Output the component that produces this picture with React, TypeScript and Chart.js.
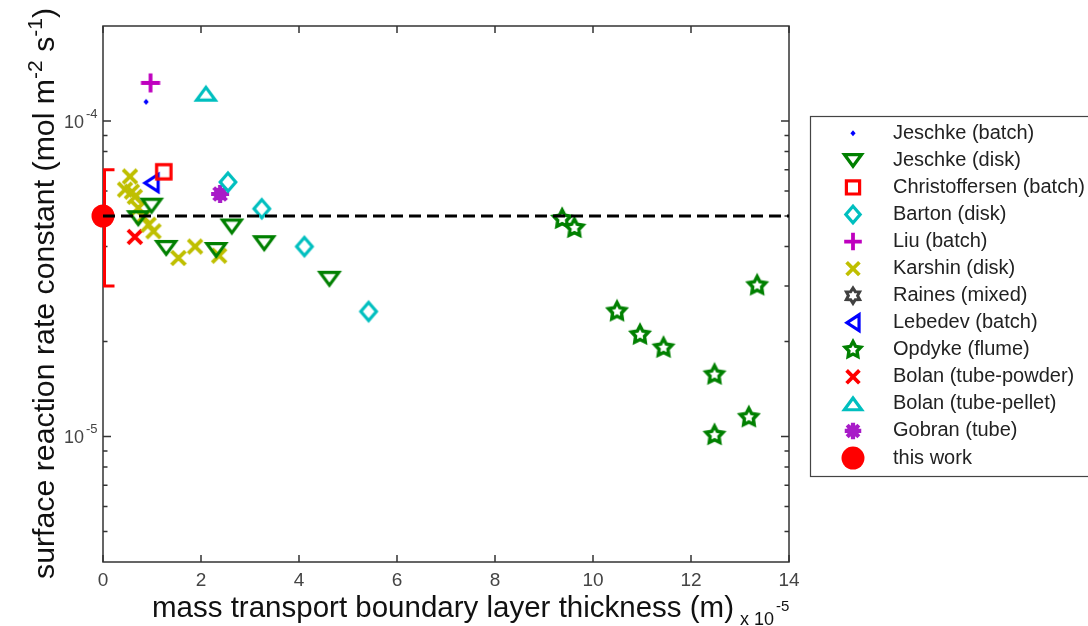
import React, { useEffect, useRef } from "react";
import { Chart, registerables } from "chart.js";

Chart.register(...registerables);

// ---------- data ----------
const xTickValues = [0, 2, 4, 6, 8, 10, 12, 14];
const xTickLabels = ["0", "2", "4", "6", "8", "10", "12", "14"];
const yMajorTicks = [1e-5, 1e-4];
const yMajorBase = ["10", "10"];
const yMajorExp = ["-5", "-4"];
const yMinorTicks = [5e-6, 6e-6, 7e-6, 8e-6, 9e-6, 2e-5, 3e-5, 4e-5, 5e-5, 6e-5, 7e-5, 8e-5, 9e-5];

const jeschkeBatchX = [0.88];
const jeschkeBatchY = [1.15e-4];
const jeschkeDiskX = [0.99, 0.72, 1.29, 2.31, 2.63, 3.29, 4.62];
const jeschkeDiskY = [5.39e-5, 4.92e-5, 3.96e-5, 3.9e-5, 4.63e-5, 4.1e-5, 3.16e-5];
const christoffersenX = [1.24];
const christoffersenY = [6.9e-5];
const bartonX = [2.55, 3.24, 4.11, 5.42];
const bartonY = [6.4e-5, 5.27e-5, 4.0e-5, 2.49e-5];
const liuX = [0.97];
const liuY = [1.32e-4];
const karshinX = [0.55, 0.45, 0.59, 0.65, 0.72, 0.82, 0.93, 1.03, 1.54, 1.88, 2.37];
const karshinY = [6.67e-5, 6.06e-5, 5.97e-5, 5.75e-5, 5.3e-5, 4.97e-5, 4.69e-5, 4.47e-5, 3.68e-5, 4.0e-5, 3.74e-5];
const rainesX: number[] = [];
const rainesY: number[] = [];
const lebedevX = [0.99];
const lebedevY = [6.36e-5];
const opdykeX = [9.37, 9.62, 10.49, 10.96, 11.44, 12.48, 12.48, 13.18, 13.35];
const opdykeY = [4.89e-5, 4.58e-5, 2.49e-5, 2.1e-5, 1.91e-5, 1.57e-5, 1.01e-5, 1.15e-5, 3.01e-5];
const bolanPowderX = [0.65];
const bolanPowderY = [4.29e-5];
const bolanPelletX = [2.1];
const bolanPelletY = [1.22e-4];
const gobranX = [2.39];
const gobranY = [5.87e-5];
const thisWorkX = [0];
const thisWorkY = [5.0e-5];
const thisWorkErrLow = [3.0e-5];
const thisWorkErrHigh = [7.0e-5];
const refLineX = [0, 14];
const refLineY = [5e-5, 5e-5];

const seriesLabels = [
  "Jeschke (batch)",
  "Jeschke (disk)",
  "Christoffersen (batch)",
  "Barton (disk)",
  "Liu (batch)",
  "Karshin (disk)",
  "Raines (mixed)",
  "Lebedev (batch)",
  "Opdyke (flume)",
  "Bolan (tube-powder)",
  "Bolan (tube-pellet)",
  "Gobran (tube)",
  "this work",
];

const FONT = "'Liberation Sans', Arial, Helvetica, sans-serif";

type Kind =
  | "dot" | "triDown" | "square" | "diamond" | "plus" | "x" | "hexagram"
  | "triLeft" | "pentagram" | "triUp" | "asterisk" | "circle";

const seriesDefs: { kind: Kind; color: string; xs: number[]; ys: number[] }[] = [
  { kind: "dot", color: "#0000FF", xs: jeschkeBatchX, ys: jeschkeBatchY },
  { kind: "triDown", color: "#008000", xs: jeschkeDiskX, ys: jeschkeDiskY },
  { kind: "square", color: "#FF0000", xs: christoffersenX, ys: christoffersenY },
  { kind: "diamond", color: "#00BFBF", xs: bartonX, ys: bartonY },
  { kind: "plus", color: "#BF00BF", xs: liuX, ys: liuY },
  { kind: "x", color: "#BFBF00", xs: karshinX, ys: karshinY },
  { kind: "hexagram", color: "#404040", xs: rainesX, ys: rainesY },
  { kind: "triLeft", color: "#0000FF", xs: lebedevX, ys: lebedevY },
  { kind: "pentagram", color: "#008000", xs: opdykeX, ys: opdykeY },
  { kind: "x", color: "#FF0000", xs: bolanPowderX, ys: bolanPowderY },
  { kind: "triUp", color: "#00BFBF", xs: bolanPelletX, ys: bolanPelletY },
  { kind: "asterisk", color: "#A81CC8", xs: gobranX, ys: gobranY },
  { kind: "circle", color: "#FF0000", xs: thisWorkX, ys: thisWorkY },
];

function drawMarker(ctx: CanvasRenderingContext2D, kind: Kind, cx: number, cy: number, color: string, k = 1.2) {
  ctx.save();
  ctx.strokeStyle = color;
  ctx.fillStyle = color;
  ctx.lineJoin = "miter";
  ctx.lineCap = "butt";
  ctx.beginPath();
  switch (kind) {
    case "dot":
      ctx.moveTo(cx, cy - 3);
      ctx.lineTo(cx + 2.6, cy);
      ctx.lineTo(cx, cy + 3);
      ctx.lineTo(cx - 2.6, cy);
      ctx.closePath();
      ctx.fill();
      break;
    case "triDown":
      ctx.lineWidth = 3.2;
      ctx.moveTo(cx - 7.8 * k, cy - 5.3 * k);
      ctx.lineTo(cx + 7.8 * k, cy - 5.3 * k);
      ctx.lineTo(cx, cy + 5.3 * k);
      ctx.closePath();
      ctx.stroke();
      break;
    case "triUp":
      ctx.lineWidth = 3.2;
      ctx.moveTo(cx - 7.8 * k, cy + 5.3 * k);
      ctx.lineTo(cx + 7.8 * k, cy + 5.3 * k);
      ctx.lineTo(cx, cy - 5.3 * k);
      ctx.closePath();
      ctx.stroke();
      break;
    case "triLeft":
      ctx.lineWidth = 3.2;
      ctx.moveTo(cx + 5.5 * k, cy - 7.2 * k);
      ctx.lineTo(cx + 5.5 * k, cy + 7.2 * k);
      ctx.lineTo(cx - 5.5 * k, cy);
      ctx.closePath();
      ctx.stroke();
      break;
    case "square":
      ctx.lineWidth = 3.2;
      ctx.rect(cx - 6 * k, cy - 6 * k, 12 * k, 12 * k);
      ctx.stroke();
      break;
    case "diamond":
      ctx.lineWidth = 3.2;
      ctx.moveTo(cx, cy - 7.5 * k);
      ctx.lineTo(cx + 6.5 * k, cy);
      ctx.lineTo(cx, cy + 7.5 * k);
      ctx.lineTo(cx - 6.5 * k, cy);
      ctx.closePath();
      ctx.stroke();
      break;
    case "plus":
      ctx.lineWidth = 3.8;
      ctx.moveTo(cx - 8 * k, cy);
      ctx.lineTo(cx + 8 * k, cy);
      ctx.moveTo(cx, cy - 8 * k);
      ctx.lineTo(cx, cy + 8 * k);
      ctx.stroke();
      break;
    case "x":
      ctx.lineWidth = 3.8;
      ctx.moveTo(cx - 5.8 * k, cy - 5.8 * k);
      ctx.lineTo(cx + 5.8 * k, cy + 5.8 * k);
      ctx.moveTo(cx + 5.8 * k, cy - 5.8 * k);
      ctx.lineTo(cx - 5.8 * k, cy + 5.8 * k);
      ctx.stroke();
      break;
    case "hexagram": {
      ctx.lineWidth = 3;
      for (let i = 0; i < 12; i++) {
        const a = -Math.PI / 2 + (i * Math.PI) / 6;
        const r = (i % 2 === 0 ? 7 : 4.2) * k;
        const px = cx + r * Math.cos(a);
        const py = cy + r * Math.sin(a);
        if (i === 0) ctx.moveTo(px, py);
        else ctx.lineTo(px, py);
      }
      ctx.closePath();
      ctx.stroke();
      break;
    }
    case "pentagram": {
      ctx.lineWidth = 3.4;
      for (let i = 0; i < 10; i++) {
        const a = -Math.PI / 2 + (i * Math.PI) / 5;
        const r = (i % 2 === 0 ? 7.5 : 3.9) * k;
        const px = cx + r * Math.cos(a);
        const py = cy + r * Math.sin(a);
        if (i === 0) ctx.moveTo(px, py);
        else ctx.lineTo(px, py);
      }
      ctx.closePath();
      ctx.stroke();
      break;
    }
    case "asterisk": {
      ctx.lineWidth = 4.2;
      for (let i = 0; i < 4; i++) {
        const a = (i * Math.PI) / 4;
        ctx.moveTo(cx - 7.5 * k * Math.cos(a), cy - 7.5 * k * Math.sin(a));
        ctx.lineTo(cx + 7.5 * k * Math.cos(a), cy + 7.5 * k * Math.sin(a));
      }
      ctx.stroke();
      ctx.beginPath();
      ctx.arc(cx, cy, 5.5 * k, 0, Math.PI * 2);
      ctx.fill();
      break;
    }
    case "circle":
      ctx.arc(cx, cy, 11.5, 0, Math.PI * 2);
      ctx.fill();
      break;
  }
  ctx.restore();
}

function makeMarkerCanvas(kind: Kind, color: string): HTMLCanvasElement {
  const c = document.createElement("canvas");
  c.width = 40;
  c.height = 40;
  const ctx = c.getContext("2d")!;
  drawMarker(ctx, kind, 20, 20, color);
  return c;
}

const decorPlugin = {
  id: "decor",
  beforeDatasetsDraw(chart: any) {
    const ctx: CanvasRenderingContext2D = chart.ctx;
    const { left, right, top, bottom } = chart.chartArea;
    const xs = chart.scales.x;
    const ys = chart.scales.y;
    ctx.save();
    // frame
    ctx.strokeStyle = "#333333";
    ctx.lineWidth = 1.5;
    ctx.strokeRect(left, top, right - left, bottom - top);
    // ticks (inward)
    ctx.beginPath();
    xTickValues.forEach((v) => {
      const px = xs.getPixelForValue(v);
      ctx.moveTo(px, bottom);
      ctx.lineTo(px, bottom - 7);
      ctx.moveTo(px, top);
      ctx.lineTo(px, top + 7);
    });
    yMajorTicks.forEach((v) => {
      const py = ys.getPixelForValue(v);
      ctx.moveTo(left, py);
      ctx.lineTo(left + 8, py);
      ctx.moveTo(right, py);
      ctx.lineTo(right - 8, py);
    });
    yMinorTicks.forEach((v) => {
      const py = ys.getPixelForValue(v);
      ctx.moveTo(left, py);
      ctx.lineTo(left + 4.5, py);
      ctx.moveTo(right, py);
      ctx.lineTo(right - 4.5, py);
    });
    ctx.stroke();

    // error bar for "this work"
    ctx.strokeStyle = "#FF0000";
    ctx.lineWidth = 3;
    thisWorkX.forEach((xv, i) => {
      const px = xs.getPixelForValue(xv) + 1.5;
      const pLo = ys.getPixelForValue(thisWorkErrLow[i]);
      const pHi = ys.getPixelForValue(thisWorkErrHigh[i]);
      ctx.beginPath();
      ctx.moveTo(px + 10, pHi);
      ctx.lineTo(px, pHi);
      ctx.lineTo(px, pLo);
      ctx.lineTo(px + 10, pLo);
      ctx.stroke();
    });
    ctx.restore();
  },
  afterDraw(chart: any) {
    const ctx: CanvasRenderingContext2D = chart.ctx;
    const { bottom } = chart.chartArea;
    const xs = chart.scales.x;
    const ys = chart.scales.y;
    ctx.save();
    // x tick labels
    ctx.fillStyle = "#444444";
    ctx.font = `19px ${FONT}`;
    ctx.textAlign = "center";
    ctx.textBaseline = "alphabetic";
    xTickValues.forEach((v, i) => {
      ctx.fillText(xTickLabels[i], xs.getPixelForValue(v), bottom + 24);
    });
    // y tick labels with superscripts
    yMajorTicks.forEach((v, i) => {
      const py = ys.getPixelForValue(v);
      ctx.font = `18px ${FONT}`;
      ctx.textAlign = "right";
      ctx.fillText(yMajorBase[i], 84, py + 7);
      ctx.font = `13px ${FONT}`;
      ctx.textAlign = "left";
      ctx.fillText(yMajorExp[i], 86, py - 3);
    });

    // x axis title
    ctx.fillStyle = "#111111";
    ctx.textAlign = "left";
    const xt = "mass transport boundary layer thickness (m)";
    ctx.font = `29.5px ${FONT}`;
    const xtStart = 152;
    const xtBase = 617;
    ctx.fillText(xt, xtStart, xtBase);
    const xtW = ctx.measureText(xt).width;
    ctx.font = `18px ${FONT}`;
    const sub = "x 10";
    const subX = xtStart + xtW + 6;
    ctx.fillText(sub, subX, 625);
    const subW = ctx.measureText(sub).width;
    ctx.font = `15px ${FONT}`;
    ctx.fillText("-5", subX + subW + 2, 611);

    // y axis title (rotated)
    ctx.save();
    ctx.translate(54, 579);
    ctx.rotate(-Math.PI / 2);
    const big = `30.3px ${FONT}`;
    const small = `21px ${FONT}`;
    const parts: [string, string, number][] = [
      ["surface reaction rate constant (mol m", big, 0],
      ["-2", small, -12],
      [" s", big, 0],
      ["-1", small, -12],
      [")", big, 0],
    ];
    let cx = 0;
    parts.forEach(([t, f, dy]) => {
      ctx.font = f;
      ctx.fillText(t, cx, dy);
      cx += ctx.measureText(t).width;
    });
    ctx.restore();

    // legend
    const lx = 810, ly = 116, lw = 290, lh = 360;
    ctx.fillStyle = "#FFFFFF";
    ctx.strokeStyle = "#444444";
    ctx.lineWidth = 1.2;
    ctx.fillRect(lx, ly, lw, lh);
    ctx.strokeRect(lx + 0.5, ly + 0.5, lw, lh);
    ctx.font = `20px ${FONT}`;
    ctx.textAlign = "left";
    ctx.textBaseline = "middle";
    seriesDefs.forEach((s, i) => {
      const yy = 133.3 + i * 27.06;
      drawMarker(ctx, s.kind, 853, yy, s.color, 1.1);
      ctx.fillStyle = "#222222";
      ctx.fillText(seriesLabels[i], 893, yy);
    });
    ctx.restore();
  },
};

export default function App() {
  const ref = useRef<HTMLCanvasElement>(null);
  useEffect(() => {
    if (!ref.current) return;
    const datasets: any[] = seriesDefs.map((s, i) => ({
      type: "scatter",
      label: seriesLabels[i],
      data: s.xs.map((x, j) => ({ x, y: s.ys[j] })),
      pointStyle: makeMarkerCanvas(s.kind, s.color),
      pointRadius: 10,
      showLine: false,
      clip: false,
      order: 1,
    }));
    datasets.push({
      type: "line",
      label: "reference",
      data: refLineX.map((x, j) => ({ x, y: refLineY[j] })),
      borderColor: "#000000",
      borderWidth: 3,
      borderDash: [12, 6],
      pointRadius: 0,
      fill: false,
      clip: false,
      order: 0,
    });
    const chart = new Chart(ref.current, {
      type: "scatter",
      data: { datasets },
      options: {
        responsive: false,
        animation: false,
        devicePixelRatio: 1,
        events: [],
        layout: { padding: { left: 103, right: 299, top: 26, bottom: 64 } },
        plugins: { legend: { display: false }, tooltip: { enabled: false }, title: { display: false } },
        scales: {
          x: { type: "linear", min: 0, max: 14, display: false },
          y: { type: "logarithmic", min: 4e-6, max: 2e-4, display: false },
        },
      },
      plugins: [decorPlugin],
    } as any);
    return () => chart.destroy();
  }, []);
  return (
    <div style={{ position: "absolute", left: 0, top: 0, width: 1088, height: 626, background: "#fff" }}>
      <canvas ref={ref} width={1088} height={626} style={{ width: 1088, height: 626, display: "block" }} />
    </div>
  );
}
